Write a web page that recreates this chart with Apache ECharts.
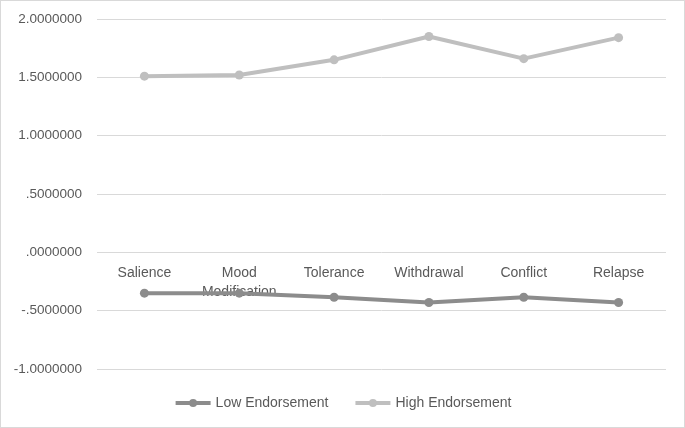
<!DOCTYPE html>
<html><head><meta charset="utf-8">
<script src="https://cdn.jsdelivr.net/npm/echarts@6/dist/echarts.min.js"></script>
<style>html,body{margin:0;padding:0;background:#fff}#c{width:683px;height:426px;border:1px solid #d9d9d9}</style>
</head><body><div id="c"></div>
<script>
const categories = ['Salience', 'Mood\nModification', 'Tolerance', 'Withdrawal', 'Conflict', 'Relapse'];
const lowEndorsement = [-0.35, -0.35, -0.385, -0.43, -0.385, -0.43];
const highEndorsement = [1.51, 1.52, 1.65, 1.85, 1.66, 1.84];
const seriesNames = ['Low Endorsement', 'High Endorsement'];

function fmt(v){
  let s = Math.abs(v).toFixed(7);
  if (Math.abs(v) < 1) s = s.replace(/^0/, '');
  return (v < 0 ? '-' : '') + s;
}
const FONT = 'Liberation Sans';
const W = 683, H = 426, TOP = 18, BOTTOM = 58;
const yMin = -1, yMax = 2;
const zeroOffset = -(H - TOP - BOTTOM) * (0 - yMin) / (yMax - yMin);
const chart = echarts.init(document.getElementById('c'));
chart.setOption({
  animation:false,
  textStyle:{fontFamily:FONT},
  grid:{left:96,right:18,top:TOP,bottom:BOTTOM,containLabel:false},
  legend:{bottom:12,left:'center',itemGap:25,itemWidth:35,itemHeight:10,
    lineStyle:{width:4},
    textStyle:{color:'#595959',fontSize:14,fontFamily:FONT},
    data:seriesNames},
  xAxis:{type:'category',data:categories,boundaryGap:true,offset:zeroOffset,
    axisLine:{show:false,onZero:false},axisTick:{show:false},
    axisLabel:{color:'#595959',fontSize:14,margin:11,lineHeight:19,interval:0,verticalAlign:'top'}},
  yAxis:{type:'value',min:yMin,max:yMax,interval:0.5,
    axisLine:{show:false},axisTick:{show:false},
    splitLine:{lineStyle:{color:'#d9d9d9',width:1}},
    axisLabel:{color:'#595959',fontSize:13.5,margin:15,formatter:fmt}},
  series:[
    {name:seriesNames[0],type:'line',data:lowEndorsement,symbol:'circle',symbolSize:9,
     itemStyle:{color:'#8c8c8c'},lineStyle:{width:4,color:'#8c8c8c'}},
    {name:seriesNames[1],type:'line',data:highEndorsement,symbol:'circle',symbolSize:9,
     itemStyle:{color:'#bfbfbf'},lineStyle:{width:4,color:'#bfbfbf'}}
  ]
});
</script></body></html>
